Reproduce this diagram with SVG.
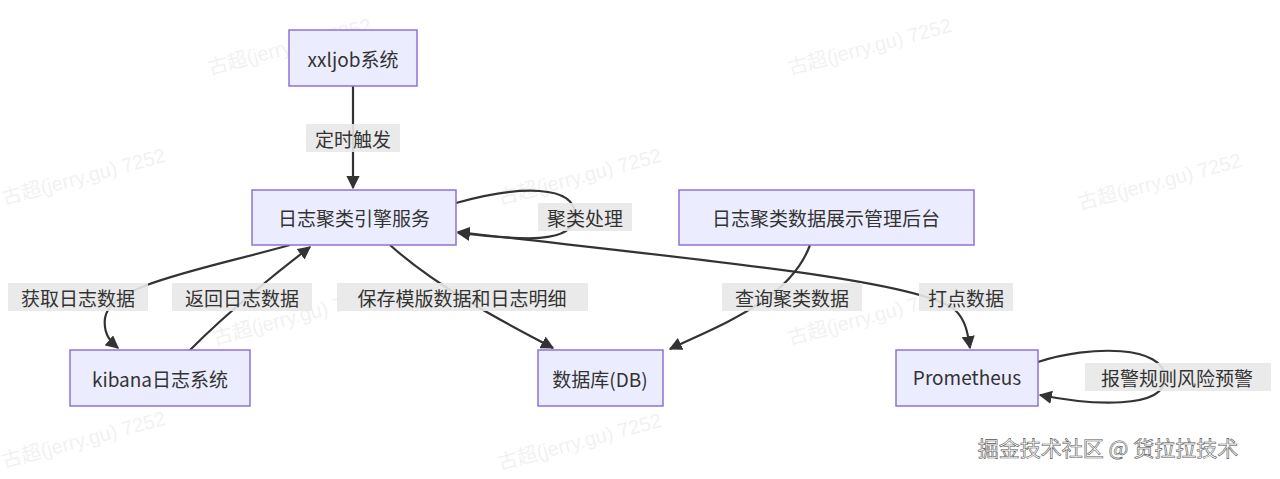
<svg xmlns="http://www.w3.org/2000/svg" width="1280" height="479" viewBox="0 0 1280 479">
<style>
.n{fill:#ECECFF;stroke:#9370DB;stroke-width:1.5}
.t{font-family:"Noto Sans CJK SC","Noto Sans",sans-serif;font-size:19px;fill:#333;text-anchor:middle;dominant-baseline:central}
.e{fill:none;stroke:#333;stroke-width:2.2}
.lb{fill:#e8e8e8;opacity:0.9}
.w{font-family:"Liberation Sans","Noto Sans CJK SC",sans-serif;font-size:20px;fill:#000;opacity:0.05}
</style>
<defs>
<marker id="a" viewBox="0 0 10 10" refX="9" refY="5" markerWidth="6" markerHeight="6" orient="auto-start-reverse"><path d="M0,0L10,5L0,10z" fill="#333"/></marker>
</defs>
<rect width="1280" height="479" fill="#fff"/>
<g id="watermarks">
<text class="w" x="210" y="75" transform="rotate(-15 210 75)">古超(jerry.gu) 7252</text>
<text class="w" x="790" y="75" transform="rotate(-15 790 75)">古超(jerry.gu) 7252</text>
<text class="w" x="4" y="205" transform="rotate(-15 4 205)">古超(jerry.gu) 7252</text>
<text class="w" x="500" y="205" transform="rotate(-15 500 205)">古超(jerry.gu) 7252</text>
<text class="w" x="1080" y="210" transform="rotate(-15 1080 210)">古超(jerry.gu) 7252</text>
<text class="w" x="215" y="345" transform="rotate(-15 215 345)">古超(jerry.gu) 7252</text>
<text class="w" x="790" y="345" transform="rotate(-15 790 345)">古超(jerry.gu) 7252</text>
<text class="w" x="4" y="468" transform="rotate(-15 4 468)">古超(jerry.gu) 7252</text>
<text class="w" x="500" y="470" transform="rotate(-15 500 470)">古超(jerry.gu) 7252</text>
</g>
<g id="connectors">
<path class="e" d="M353,86V188" marker-end="url(#a)"/>
<path class="e" d="M456,203C520,185 575,185 575,215C575,245 520,240 458,233" marker-end="url(#a)"/>
<path class="e" d="M290,245C200,270 110,285 105,318C103,335 112,343 118,348" marker-end="url(#a)"/>
<path class="e" d="M190,350C230,310 280,270 310,247" marker-end="url(#a)"/>
<path class="e" d="M390,245C440,290 510,325 553,348" marker-end="url(#a)"/>
<path class="e" d="M810,245C790,300 720,325 670,349" marker-end="url(#a)"/>
<path class="e" d="M458,232C700,260 920,280 955,310C966,320 968,335 970,348" marker-start="url(#a)" marker-end="url(#a)"/>
<path class="e" d="M1038,362C1090,345 1165,345 1165,378C1165,410 1090,405 1040,395" marker-end="url(#a)"/>
<g id="labels">
<rect class="lb" x="306" y="124" width="94" height="28"/><text class="t" x="353" y="138">定时触发</text>
<rect class="lb" x="538" y="203" width="94" height="28"/><text class="t" x="585" y="217">聚类处理</text>
<rect class="lb" x="8" y="283" width="140" height="28"/><text class="t" x="78" y="297">获取日志数据</text>
<rect class="lb" x="172" y="283" width="140" height="28"/><text class="t" x="242" y="297">返回日志数据</text>
<rect class="lb" x="337" y="283" width="251" height="28"/><text class="t" x="462" y="297">保存模版数据和日志明细</text>
<rect class="lb" x="722" y="283" width="140" height="28"/><text class="t" x="792" y="297">查询聚类数据</text>
<rect class="lb" x="919" y="283" width="94" height="28"/><text class="t" x="966" y="297">打点数据</text>
<rect class="lb" x="1085" y="363" width="186" height="28"/><text class="t" x="1177" y="377">报警规则风险预警</text>
</g>
</g>
<g id="n1"><rect class="n" x="289" y="30" width="128" height="56"/><text class="t" x="353" y="58">xxljob系统</text></g>
<g id="n2"><rect class="n" x="252" y="190" width="204" height="55"/><text class="t" x="354" y="217">日志聚类引擎服务</text></g>
<g id="n3"><rect class="n" x="679" y="190" width="295" height="55"/><text class="t" x="826" y="217">日志聚类数据展示管理后台</text></g>
<g id="n4"><rect class="n" x="70" y="350" width="180" height="56"/><text class="t" x="160" y="378">kibana日志系统</text></g>
<g id="n5"><rect class="n" x="538" y="350" width="125" height="56"/><text class="t" x="600" y="378">数据库(DB)</text></g>
<g id="n6"><rect class="n" x="896" y="350" width="142" height="56"/><text class="t" x="967" y="376">Prometheus</text></g>
<text x="1108" y="447" style="font-family:'Noto Sans CJK SC',sans-serif;font-size:21px;fill:#fff;stroke:#555;stroke-width:0.6;text-anchor:middle;dominant-baseline:central">掘金技术社区 @ 货拉拉技术</text>
</svg>
